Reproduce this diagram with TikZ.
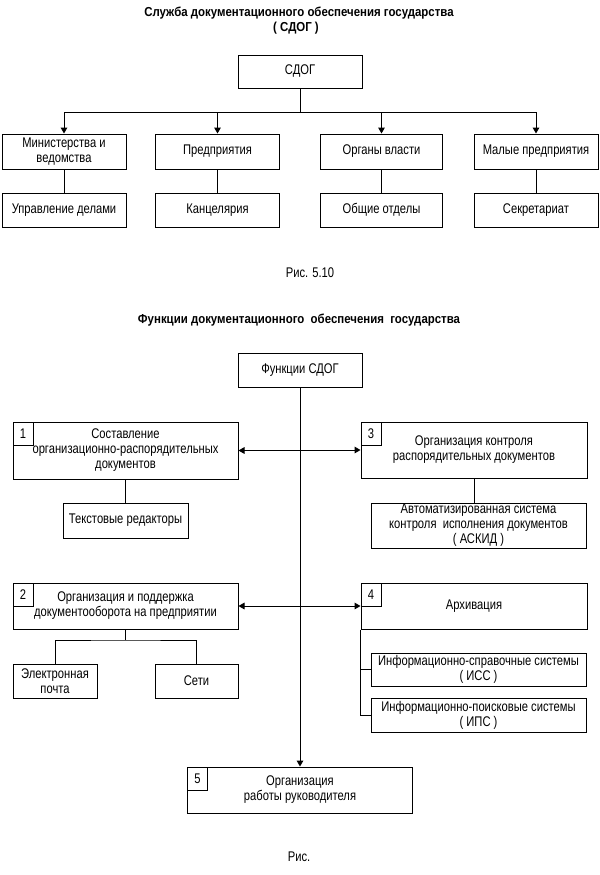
\documentclass[tikz,border=0pt]{standalone}
\usepackage{fontspec}
\setmainfont{Liberation Sans}[FakeStretch=0.80]
\newfontfamily\titlefont{Liberation Sans}[FakeStretch=0.88]
\usetikzlibrary{arrows.meta}
\newdimen\pxu \pxu=0.75pt
\newcommand\fs{\fontsize{10.5pt}{11.25pt}\selectfont}
\newcommand\ft{\titlefont\fontsize{9.75pt}{11.25pt}\selectfont\bfseries}
\tikzset{
  wh/.style 2 args={minimum width=#1\pxu, minimum height=#2\pxu},
  box/.style={draw, line width=0.75pt, rectangle, inner sep=0pt, align=center, font=\fs},
  numcell/.style={draw, line width=0.75pt, rectangle, inner sep=0pt, anchor=north west, font=\fs, minimum width=20\pxu, minimum height=23\pxu},
  link/.style={line width=0.75pt},
  arr/.style={line width=0.75pt, -{Triangle[length=4.5pt,width=5pt]}},
  lbl/.style={inner sep=0pt, font=\fs},
  ttl/.style={inner sep=0pt, font=\ft},
}
\begin{document}
\begin{tikzpicture}[x=0.75pt,y=-0.75pt]
\useasboundingbox (0,0) rectangle (600,875);
% ---------- Part 1 ----------
\node[ttl] (t1) at (299,13) {Служба документационного обеспечения государства};
\node[ttl] (t1b) at (296,28) {( СДОГ )};
\node[box, wh={124}{33}] (sdog) at (300,71.5) {СДОГ};
\node[box, wh={124}{35}] (r1a) at (64,151.5) {Министерства и\\ведомства};
\node[box, wh={124}{35}] (r1b) at (217.5,151.5) {Предприятия};
\node[box, wh={122}{35}] (r1c) at (381.5,151.5) {Органы власти};
\node[box, wh={124}{35}] (r1d) at (536,151.5) {Малые предприятия};
\node[box, wh={124}{34}] (r2a) at (64,210) {Управление делами};
\node[box, wh={124}{34}] (r2b) at (217.5,210) {Канцелярия};
\node[box, wh={122}{34}] (r2c) at (381.5,210) {Общие отделы};
\node[box, wh={124}{34}] (r2d) at (536,210) {Секретариат};
\coordinate (hub) at (300,112);
\draw[link] (sdog.south) -- (hub);
\draw[link] (r1a.north |- hub) -- (r1d.north |- hub);
\foreach \n in {r1a,r1b,r1c,r1d} {\draw[arr] (\n.north |- hub) -- (\n.north);}
\draw[link] (r1a.south) -- (r2a.north);
\draw[link] (r1b.south) -- (r2b.north);
\draw[link] (r1c.south) -- (r2c.north);
\draw[link] (r1d.south) -- (r2d.north);
\node[lbl] (cap1) at (310,273) {Рис. 5.10};
% ---------- Part 2 ----------
\node[ttl] (t2) at (299,320) {Функции\ документационного\ \ обеспечения\ \ государства};
\node[box, wh={124}{34}] (func) at (300,370) {Функции СДОГ};
\node[box, wh={225}{57}] (b1) at (125.5,450.5) {Составление\\организационно-распорядительных\\документов};
\node[numcell] (n1) at (b1.north west) {1};
\node[box, wh={226}{56}] (b3) at (474,450) {Организация контроля\\распорядительных документов};
\node[numcell] (n3) at (b3.north west) {3};
\node[box, wh={125}{35}] (ted) at (125.5,520.5) {Текстовые редакторы};
\node[box, wh={215}{45}] (askid) at (478.5,525.5) {Автоматизированная система\\контроля\ \ исполнения документов\\( АСКИД )};
\node[box, wh={225}{46}] (b2) at (125.5,606) {Организация и поддержка\\документооборота на предприятии};
\node[numcell] (n2) at (b2.north west) {2};
\node[box, wh={226}{46}] (b4) at (474,606) {Архивация};
\node[numcell] (n4) at (b4.north west) {4};
\node[box, wh={84}{34}] (email) at (55,681) {Электронная\\почта};
\node[box, wh={83}{34}] (seti) at (196.5,681) {Сети};
\node[box, wh={215}{33}] (iss) at (478.5,669.5) {Информационно-справочные системы\\( ИСС )};
\node[box, wh={215}{34}] (ips) at (478.5,715) {Информационно-поисковые системы\\( ИПС )};
\node[box, wh={225}{46}] (b5) at (300,790) {Организация\\работы руководителя};
\node[numcell] (n5) at (b5.north west) {5};
% connectors
\draw[arr] (func.south) -- (b5.north);
\draw[arr] (b1.east -| func.south) -- (b1.east);
\draw[arr] (b3.west -| func.south) -- (b3.west);
\draw[arr] (b2.east -| func.south) -- (b2.east);
\draw[arr] (b4.west -| func.south) -- (b4.west);
\draw[link] (b1.south) -- (ted.north);
\draw[link] (b3.south) -- (b3.south |- askid.north);
\coordinate (j2) at (125.5,640);
\draw[link] (b2.south) -- (j2);
\draw[link] (email.north) |- (j2) -| (seti.north);
\draw[link] (b4.south west) |- (ips.west);
\draw[link] (iss.west -| b4.south west) -- (iss.west);
\node[lbl] (cap2) at (299,857) {Рис.};
\end{tikzpicture}
\end{document}
